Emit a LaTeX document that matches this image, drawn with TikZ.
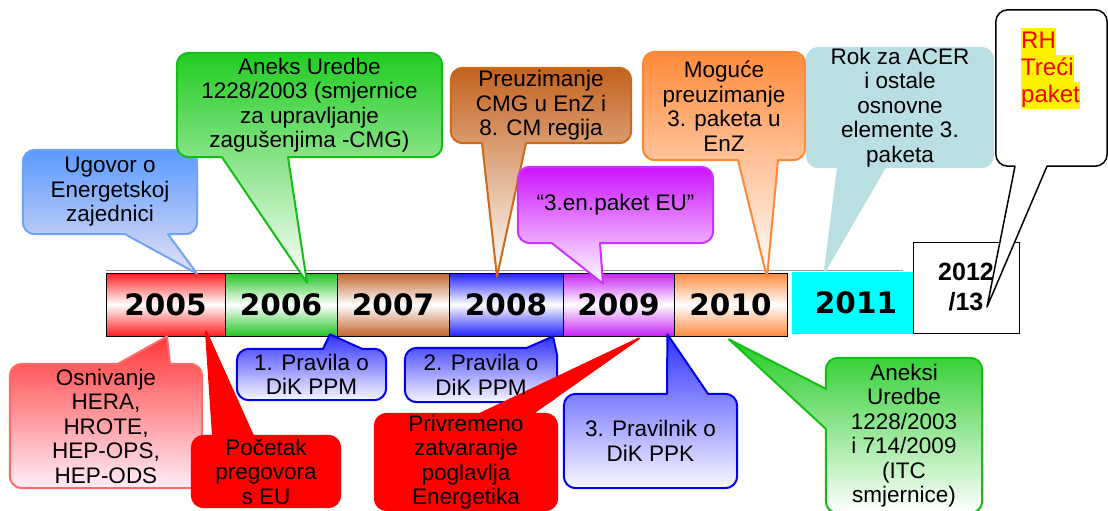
\documentclass[tikz,border=0pt]{standalone}
\usepackage{fontspec}
\setmainfont{Liberation Sans}
\newfontfamily\yearfamily{DejaVu Sans}
\usetikzlibrary{positioning}

\pgfdeclarelayer{bar}
\pgfdeclarelayer{bubbles}
\pgfsetlayers{bar,bubbles,main}

\definecolor{segred}{HTML}{FF1F1F}
\definecolor{seggreen}{HTML}{22C322}
\definecolor{segbrown}{HTML}{C2652C}
\definecolor{segblue}{HTML}{2222FF}
\definecolor{segpurple}{HTML}{C522F5}
\definecolor{segorange}{HTML}{FF8A40}
\definecolor{segcyan}{HTML}{00FFFF}
\definecolor{ugline}{HTML}{6EA3F5}
\definecolor{ugtop}{HTML}{5A9AFF}
\definecolor{ugbot}{HTML}{E6E0F4}
\definecolor{grline}{HTML}{14BE14}
\definecolor{grtop}{HTML}{22CC22}
\definecolor{brline}{HTML}{CC6A18}
\definecolor{brtop}{HTML}{C4621E}
\definecolor{puline}{HTML}{CC33FF}
\definecolor{putop}{HTML}{CC11FF}
\definecolor{orline}{HTML}{FF8838}
\definecolor{ortop}{HTML}{FF8A3A}
\definecolor{rokteal}{HTML}{B9DFE3}
\definecolor{pkline}{HTML}{FF6A6A}
\definecolor{pktop}{HTML}{FF3838}
\definecolor{pkbot}{HTML}{FFEEF8}
\definecolor{bluline}{HTML}{0000EE}
\definecolor{blutop}{HTML}{3030FF}
\definecolor{blubot}{HTML}{F8F8FF}

\newcommand\talkfont{\fontsize{22.5}{24.5}\selectfont}
\newcommand\yearfont{\yearfamily\bfseries\fontsize{29.5}{31}\selectfont}

\begin{document}
\begin{tikzpicture}[x=1pt, y=-1pt,
  talk/.style={align=center, inner sep=0pt, font=\talkfont},
  yearseg/.style={draw=black, line width=0.8pt, minimum height=63pt, inner sep=0pt, font=\yearfont},
  bubble/.style n args={3}{draw=#1, top color=#2, bottom color=#3, line width=2pt, line join=round},
  flatbubble/.style={draw=#1, fill=#1, line width=2pt, line join=round},
  rhline/.style={fill=yellow, text=red, inner sep=0pt, text height=20pt, text depth=6.5pt,
    font=\fontsize{24}{26}\selectfont}]

\useasboundingbox (0,0) rectangle (1108,511);

% --- Time line ---
\begin{pgfonlayer}{bar}
\foreach \yr/\xc/\w/\col in {2005/165.5/119/segred, 2006/281/112/seggreen,
    2007/393/112/segbrown, 2008/506/114/segblue, 2009/618.5/111/segpurple,
    2010/730.5/113/segorange}
  \node[yearseg, minimum width=\w pt, top color=\col, bottom color=\col, middle color=white]
    (y\yr) at (\xc,304.5) {\yr};
\node[yearseg, draw=none, fill=segcyan, minimum width=128pt, minimum height=62pt]
  (y2011) at (856,303) {2011};
\node[draw=black, line width=1pt, fill=white, minimum width=106pt, minimum height=91pt,
  align=center, font=\bfseries\fontsize{25}{30}\selectfont] (y2012) at (966,287.5) {2012\\/13};
\draw[gray!80, line width=0.8pt] ([yshift=2pt]y2005.north west) -- ([xshift=-17pt,yshift=1pt]y2011.north east);
\end{pgfonlayer}

% --- Callouts above the line ---
\node[talk, minimum width=174pt, minimum height=84pt] (ugovor) at (110,192) {Ugovor o\\Energetskoj\\zajednici};
\node[talk, minimum width=265pt, minimum height=104pt] (aneks) at (309.5,105)
  {Aneks Uredbe\\1228/2003 (smjernice\\za upravljanje\\zagušenjima -CMG)};
\node[talk, minimum width=180pt, minimum height=75pt] (preuz) at (541,105.5) {Preuzimanje\\CMG u EnZ i\\8. CM regija};
\node[talk, minimum width=195pt, minimum height=76pt] (paket) at (615.5,205) {“3.en.paket EU”};
\node[talk, minimum width=162pt, minimum height=108pt] (moguce) at (724,106) {Moguće\\preuzimanje\\3. paketa u\\EnZ};
\node[talk, minimum width=186pt, minimum height=119pt] (rok) at (900,107.5)
  {Rok za ACER\\i ostale\\osnovne\\elemente 3.\\paketa};
\node[minimum width=111pt, minimum height=156pt, inner sep=0pt] (rh) at (1051.5,88) {};
\node[rhline, anchor=north west] (rh1) at (1021,28) {RH};
\node[rhline, anchor=north west] (rh2) at (rh1.south west) {Treći};
\node[rhline, anchor=north west] (rh3) at (rh2.south west) {paket};

% --- Callouts below the line ---
\node[talk, minimum width=192pt, minimum height=124pt] (osniv) at (106,426)
  {Osnivanje\\HERA,\\HROTE,\\HEP-OPS,\\HEP-ODS};
\node[talk, minimum width=148pt, minimum height=71pt] (pocetak) at (266,471.5) {Početak\\pregovora\\s EU};
\node[talk, minimum width=149pt, minimum height=51pt] (pravila1) at (311.5,374.5) {1. Pravila o\\DiK PPM};
\node[talk, minimum width=152pt, minimum height=54pt] (pravila2) at (481,375) {2. Pravila o\\DiK PPM};
\node[talk, minimum width=182pt, minimum height=96pt] (privrem) at (466,462)
  {Privremeno\\zatvaranje\\poglavlja\\Energetika};
\node[talk, minimum width=173pt, minimum height=94pt] (pravilnik) at (650.5,441) {3. Pravilnik o\\DiK PPK};
\node[talk, minimum width=156pt, minimum height=155pt] (aneksi) at (904,435.5)
  {Aneksi\\Uredbe\\1228/2003\\i 714/2009\\(ITC\\smjernice)};

% --- Bubble outlines ---
\begin{pgfonlayer}{bubbles}
\path[bubble={ugline}{ugtop}{ugbot}]
  ([xshift=31.5pt,yshift=-1pt]y2005.north) -- ([xshift=15pt]ugovor.south)
  [rounded corners=12pt] -- (ugovor.south west) -- (ugovor.north west) -- (ugovor.north east)
  -- (ugovor.south east) [sharp corners] -- ([xshift=58pt]ugovor.south) -- cycle;
\path[bubble={grline}{grtop}{white}]
  ([xshift=26pt,yshift=-10pt]y2006.north) -- ([xshift=-87.5pt]aneks.south)
  [rounded corners=12pt] -- (aneks.south west) -- (aneks.north west) -- (aneks.north east)
  -- (aneks.south east) [sharp corners] -- ([xshift=-21.5pt]aneks.south) -- cycle;
\path[bubble={brline}{brtop}{white}]
  ([xshift=-9pt,yshift=-4pt]y2008.north) -- ([xshift=-59pt]preuz.south)
  [rounded corners=12pt] -- (preuz.south west) -- (preuz.north west) -- (preuz.north east)
  -- (preuz.south east) [sharp corners] -- ([xshift=-15pt]preuz.south) -- cycle;
\path[bubble={puline}{putop}{white}]
  ([xshift=-15.5pt,yshift=-11pt]y2009.north) -- ([xshift=-63.5pt]paket.south)
  [rounded corners=12pt] -- (paket.south west) -- (paket.north west) -- (paket.north east)
  -- (paket.south east) [sharp corners] -- ([xshift=-15.5pt]paket.south) -- cycle;
\path[bubble={orline}{ortop}{white}]
  ([xshift=36.5pt,yshift=-5pt]y2010.north) -- ([xshift=14pt]moguce.south)
  [rounded corners=12pt] -- (moguce.south west) -- (moguce.north west) -- (moguce.north east)
  -- (moguce.south east) [sharp corners] -- ([xshift=54pt]moguce.south) -- cycle;
\path[flatbubble=rokteal]
  ([xshift=-31pt,yshift=1pt]y2011.north) -- ([xshift=-62pt]rok.south)
  [rounded corners=12pt] -- (rok.south west) -- (rok.north west) -- (rok.north east)
  -- (rok.south east) [sharp corners] -- ([xshift=-15pt]rok.south) -- cycle;
\path[draw=black, fill=white, line width=1.5pt, line join=round]
  ([xshift=21pt,yshift=-19.5pt]y2012.center) -- ([xshift=-36.5pt]rh.south)
  [rounded corners=12pt] -- (rh.south west) -- (rh.north west) -- (rh.north east)
  -- (rh.south east) [sharp corners] -- ([xshift=-4.5pt]rh.south) -- cycle;

\path[bubble={pkline}{pktop}{pkbot}]
  ([xshift=1.5pt]y2005.south) -- ([xshift=64pt]osniv.north)
  [rounded corners=12pt] -- (osniv.north east) -- (osniv.south east) -- (osniv.south west)
  -- (osniv.north west) [sharp corners] -- ([xshift=12pt]osniv.north) -- cycle;
\path[flatbubble=red]
  ([xshift=40.5pt,yshift=5pt]y2005.south) -- ([xshift=-13pt]pocetak.north)
  [rounded corners=12pt] -- (pocetak.north east) -- (pocetak.south east) -- (pocetak.south west)
  -- (pocetak.north west) [sharp corners] -- ([xshift=-53pt]pocetak.north) -- cycle;
\path[bubble={bluline}{blutop}{blubot}]
  ([xshift=49pt,yshift=2pt]y2006.south) -- ([xshift=50.5pt]pravila1.north)
  [rounded corners=12pt] -- (pravila1.north east) -- (pravila1.south east) -- (pravila1.south west)
  -- (pravila1.north west) [sharp corners] -- ([xshift=11.5pt]pravila1.north) -- cycle;
\path[bubble={bluline}{blutop}{blubot}]
  ([xshift=47pt]y2008.south) -- ([yshift=-8pt]pravila2.north east)
  [rounded corners=12pt] -- (pravila2.south east) -- (pravila2.south west)
  -- (pravila2.north west) [sharp corners] -- ([xshift=46pt]pravila2.north) -- cycle;
\path[flatbubble=red]
  ([xshift=20.5pt,yshift=-2pt]y2009.south) -- ([xshift=66pt]privrem.north)
  [rounded corners=12pt] -- (privrem.north east) -- (privrem.south east) -- (privrem.south west)
  -- (privrem.north west) [sharp corners] -- ([xshift=14pt]privrem.north) -- cycle;
\path[bubble={bluline}{blutop}{blubot}]
  ([xshift=-7pt,yshift=2pt]y2009.south east) -- ([xshift=57.5pt]pravilnik.north)
  [rounded corners=12pt] -- (pravilnik.north east) -- (pravilnik.south east) -- (pravilnik.south west)
  -- (pravilnik.north west) [sharp corners] -- ([xshift=16.5pt]pravilnik.north) -- cycle;
\path[bubble={grline}{grtop}{white}]
  ([xshift=-1.5pt,yshift=-3pt]y2010.south) -- ([yshift=-31pt]aneksi.north west)
  [rounded corners=12pt] -- (aneksi.north west) -- (aneksi.north east) -- (aneksi.south east)
  -- (aneksi.south west) [sharp corners] -- ([yshift=-71pt]aneksi.north west) -- cycle;
\end{pgfonlayer}

\end{tikzpicture}
\end{document}
